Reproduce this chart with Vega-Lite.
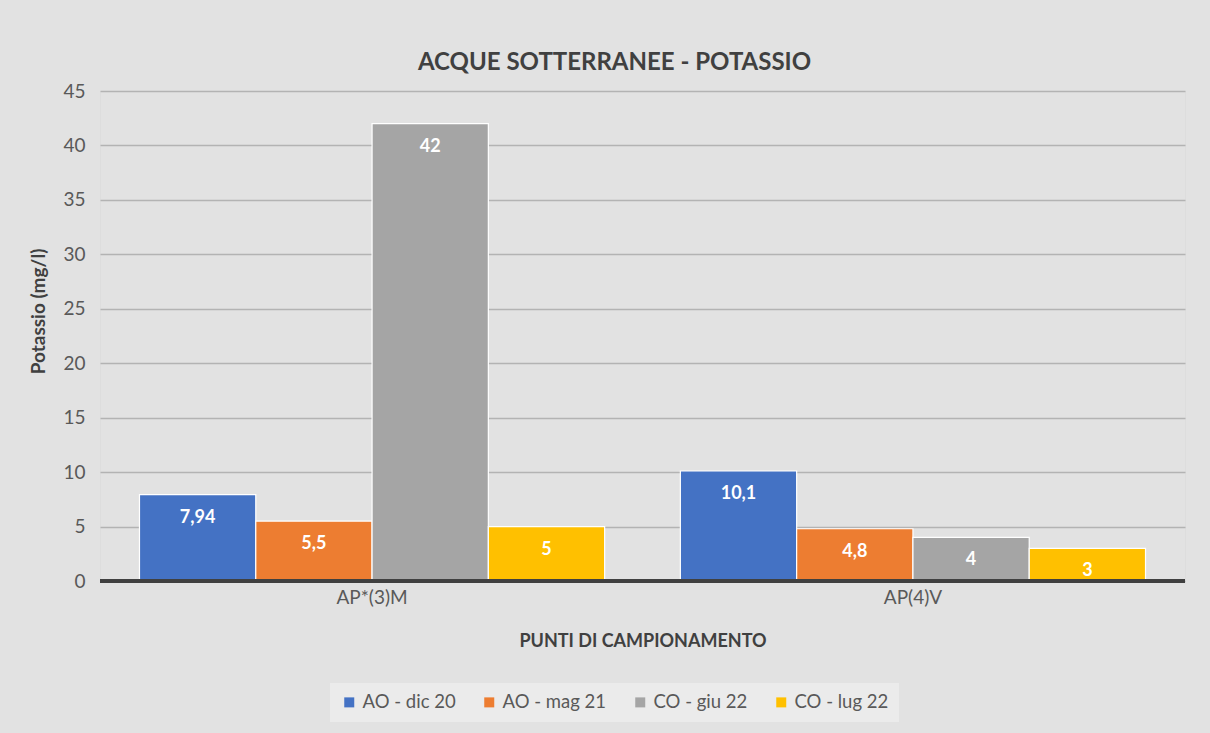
{
  "$schema": "https://vega.github.io/schema/vega-lite/v6.json",
  "width": 1085,
  "height": 490,
  "autosize": {"type": "none"},
  "padding": {"left": 100, "top": 91, "right": 25, "bottom": 152},
  "background": "#e2e2e2",
  "title": {
    "text": "ACQUE SOTTERRANEE - POTASSIO",
    "font": "Lato",
    "fontSize": 24,
    "fontWeight": "bold",
    "color": "#404040",
    "anchor": "middle",
    "frame": "group",
    "offset": 7,
    "dx": -28
  },
  "data": {
    "values": [
      {"punto": "AP*(3)M", "campagna": "AO - dic 20", "valore": 7.94, "etichetta": "7,94"},
      {"punto": "AP*(3)M", "campagna": "AO - mag 21", "valore": 5.5, "etichetta": "5,5"},
      {"punto": "AP*(3)M", "campagna": "CO - giu 22", "valore": 42, "etichetta": "42"},
      {"punto": "AP*(3)M", "campagna": "CO - lug 22", "valore": 5, "etichetta": "5"},
      {"punto": "AP(4)V", "campagna": "AO - dic 20", "valore": 10.1, "etichetta": "10,1"},
      {"punto": "AP(4)V", "campagna": "AO - mag 21", "valore": 4.8, "etichetta": "4,8"},
      {"punto": "AP(4)V", "campagna": "CO - giu 22", "valore": 4, "etichetta": "4"},
      {"punto": "AP(4)V", "campagna": "CO - lug 22", "valore": 3, "etichetta": "3"}
    ]
  },
  "encoding": {
    "x": {
      "field": "punto",
      "type": "nominal",
      "sort": null,
      "scale": {"paddingInner": 0.14, "paddingOuter": 0.073},
      "axis": {
        "title": "PUNTI DI CAMPIONAMENTO",
        "titleFont": "Lato",
        "titleFontSize": 18,
        "titleFontWeight": "bold",
        "titleColor": "#404040",
        "titlePadding": 25,
        "labelAngle": 0,
        "labelFont": "Lato",
        "labelFontSize": 19,
        "labelColor": "#595959",
        "labelPadding": 7,
        "ticks": false,
        "domain": false
      }
    },
    "xOffset": {"field": "campagna", "type": "nominal", "sort": null, "scale": {"paddingInner": 0, "paddingOuter": 0}},
    "y": {
      "field": "valore",
      "type": "quantitative",
      "scale": {"domain": [0, 45], "nice": false},
      "axis": {
        "title": "Potassio (mg/l)",
        "titleFont": "Lato",
        "titleFontSize": 19,
        "titleFontWeight": "bold",
        "titleColor": "#404040",
        "titlePadding": 14,
        "titleY": 220,
        "values": [0, 5, 10, 15, 20, 25, 30, 35, 40, 45],
        "labelFont": "Lato",
        "labelFontSize": 19,
        "labelColor": "#595959",
        "labelPadding": 15,
        "ticks": false,
        "domain": false,
        "grid": true,
        "gridColor": "#b3b3b3",
        "gridWidth": 1.5
      }
    }
  },
  "layer": [
    {
      "mark": {"type": "bar", "stroke": "#ffffff", "strokeWidth": 1.2, "opacity": 1},
      "encoding": {
        "color": {
          "field": "campagna",
          "type": "nominal",
          "sort": null,
          "scale": {
            "domain": ["AO - dic 20", "AO - mag 21", "CO - giu 22", "CO - lug 22"],
            "range": ["#4472C4", "#ED7D31", "#A5A5A5", "#FFC000"]
          },
          "legend": {
            "title": null,
            "orient": "none",
            "legendX": 230,
            "legendY": 592,
            "direction": "horizontal",
            "fillColor": "#ebebeb",
            "padding": 10,
            "symbolType": "square",
            "symbolSize": 100,
            "symbolStrokeWidth": 0,
            "labelFont": "Lato",
            "labelFontSize": 18.5,
            "labelColor": "#595959",
            "columnPadding": 24,
            "labelOffset": 4
          }
        }
      }
    },
    {
      "mark": {"type": "rule", "color": "#404040", "strokeWidth": 3},
      "encoding": {"y": {"datum": 0}, "x": null, "xOffset": null}
    },
    {
      "mark": {"type": "text", "color": "#ffffff", "font": "Lato", "fontSize": 18, "fontWeight": "bold", "baseline": "middle", "dy": 23},
      "encoding": {"text": {"field": "etichetta"}}
    }
  ]
}
